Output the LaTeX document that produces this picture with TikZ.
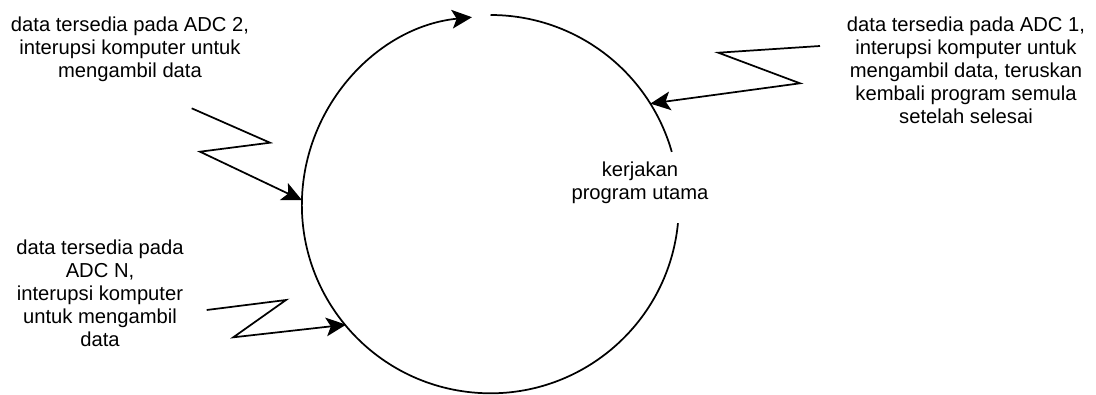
\documentclass[tikz,border=0pt]{standalone}
\usepackage{fontspec}
\setmainfont{Liberation Sans}
\usetikzlibrary{arrows.meta,calc}
\begin{document}
\begin{tikzpicture}[x=0.75pt,y=0.75pt,
  wire/.style={line width=1.3pt, line join=miter},
  arrowed/.style={-{Stealth[length=15pt,width=14pt,inset=3.5pt]}},
  note/.style={align=center, inner sep=0pt, anchor=north,
    font=\fontsize{15.15}{17.25}\selectfont}]
\useasboundingbox (0,0) rectangle (1096,394);

% the program loop
\node[circle, minimum size=282.75pt, inner sep=0pt, outer sep=0pt] (ring) at (490.5,190.5) {};
\draw[wire] (ring.90) arc[start angle=90, end angle=15.9, radius=188.5];
\draw[wire, arrowed] (ring.354.4) arc[start angle=-5.6, end angle=-264.4, radius=188.5];

% texts
\node[note] (main) at (640,232.5) {kerjakan\\program utama};
\node[note] (adc2) at (130,377.5) {data tersedia pada ADC 2,\\interupsi komputer untuk\\mengambil data};
\node[note] (adc1) at (966,377.5) {data tersedia pada ADC 1,\\interupsi komputer untuk\\mengambil data, teruskan\\kembali program semula\\setelah selesai};
\node[note] (adcn) at (100,154.2) {data tersedia pada\\ADC N,\\interupsi komputer\\untuk mengambil\\data};

% interrupt signals
\coordinate (s2a) at (191.7,285.7);
\coordinate (s2b) at (270,251.3);
\coordinate (s2c) at (200,242.3);
\draw[wire, arrowed] (s2a) -- (s2b) -- (s2c) -- (ring.179.5);

\coordinate (s1a) at (820,348);
\coordinate (s1b) at (718.3,341.3);
\coordinate (s1c) at (800,310.7);
\draw[wire, arrowed] (s1a) -- (s1b) -- (s1c) -- (ring.32.5);

\coordinate (sna) at (206.7,84);
\coordinate (snb) at (286,94);
\coordinate (snc) at (233.3,56.7);
\draw[wire, arrowed] (sna) -- (snb) -- (snc) -- (ring.220.3);
\end{tikzpicture}
\end{document}
